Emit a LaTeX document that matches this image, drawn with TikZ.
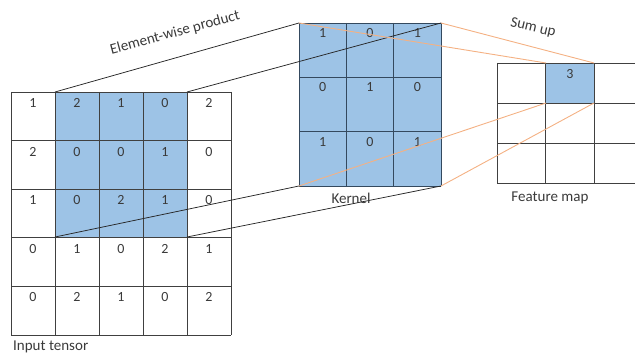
\documentclass[tikz,border=0pt]{standalone}
\usepackage{fontspec}
\setmainfont{Carlito}
\definecolor{cellblue}{HTML}{9DC3E6}
\definecolor{gridgray}{HTML}{404040}
\definecolor{kgrid}{HTML}{34495E}
\definecolor{linkorange}{HTML}{F4B183}
\definecolor{txt}{HTML}{3A3A3A}

\begin{document}
\begin{tikzpicture}[x=1pt,y=-1pt,
  gridline/.style={draw=gridgray,line width=0.8pt},
  kgridline/.style={draw=kgrid,line width=0.8pt},
  num/.style={font=\fontsize{14}{16}\selectfont,text=txt,inner sep=0pt,anchor=center},
  lbl/.style={font=\fontsize{15}{17}\selectfont,text=txt,inner sep=0pt},
  link/.style={draw=black!85,line width=0.75pt},
  sumlink/.style={draw=linkorange,line width=0.9pt}]

\useasboundingbox (0,0) rectangle (635,358);
\clip (0,0) rectangle (635,358);

% ---- input tensor (5x5) ----
\fill[cellblue] (55,92) rectangle (187,237);
\foreach \i in {0,...,5} {
  \draw[gridline] ({11+44*\i},92) -- ({11+44*\i},335);
  \draw[gridline] (11,{92+48.6*\i}) -- (231,{92+48.6*\i});
}
\foreach \row [count=\r from 0] in {{1,2,1,0,2},{2,0,0,1,0},{1,0,2,1,0},{0,1,0,2,1},{0,2,1,0,2}} {
  \foreach \v [count=\c from 0] in \row {
    \node[num] (in-\r-\c) at ({33+44*\c},{103+48.6*\r}) {\v};
  }
}
\coordinate (inTL) at (55,92);
\coordinate (inTR) at (187,92);
\coordinate (inBL) at (55,237);
\coordinate (inBR) at (187,237);

% ---- kernel (3x3) ----
\fill[cellblue] (299,23) rectangle (441,186);
\foreach \i in {0,...,3} {
  \draw[kgridline] ({299+47.33*\i},23) -- ({299+47.33*\i},186);
  \draw[kgridline] (299,{23+54.33*\i}) -- (441,{23+54.33*\i});
}
\foreach \row [count=\r from 0] in {{1,0,1},{0,1,0},{1,0,1}} {
  \foreach \v [count=\c from 0] in \row {
    \node[num] (k-\r-\c) at ({322.7+47.33*\c},{33+54.33*\r}) {\v};
  }
}
\coordinate (kTL) at (299,23);
\coordinate (kTR) at (441,23);
\coordinate (kBL) at (299,186);
\coordinate (kBR) at (441,186);

% ---- feature map (3x3) ----
\fill[cellblue] (546,63) rectangle (594,103);
\foreach \i in {0,...,3} {
  \draw[gridline] ({497+48.5*\i},63) -- ({497+48.5*\i},183);
  \draw[gridline] (497,{63+40*\i}) -- (643,{63+40*\i});
}
\node[num] (f-0-1) at (570,74) {3};
\coordinate (fTL) at (546,63);
\coordinate (fTR) at (594,63);
\coordinate (fBL) at (546,103);
\coordinate (fBR) at (594,103);

% ---- receptive field to kernel ----
\draw[link] (inTL) -- (kTL);
\draw[link] (inTR) -- (kTR);
\draw[link] (inBL) -- (kBL);
\draw[link] (inBR) -- (kBR);

% ---- kernel to output cell ----
\draw[sumlink] (kTL) -- (fTL);
\draw[sumlink] (kTR) -- (fTR);
\draw[sumlink] (kBL) -- (fBL);
\draw[sumlink] (kBR) -- (fBR);

% ---- labels ----
\node[lbl,rotate=15] (lblprod) at (175,33) {Element-wise product};
\node[lbl,rotate=-13] (lblsum) at (533,28) {Sum up};
\node[lbl] (lblkernel) at (351,198) {Kernel};
\node[lbl] (lblfeat) at (550,198) {Feature map};
\node[lbl,anchor=west] (lblinput) at (13,347) {Input tensor};
\end{tikzpicture}
\end{document}
